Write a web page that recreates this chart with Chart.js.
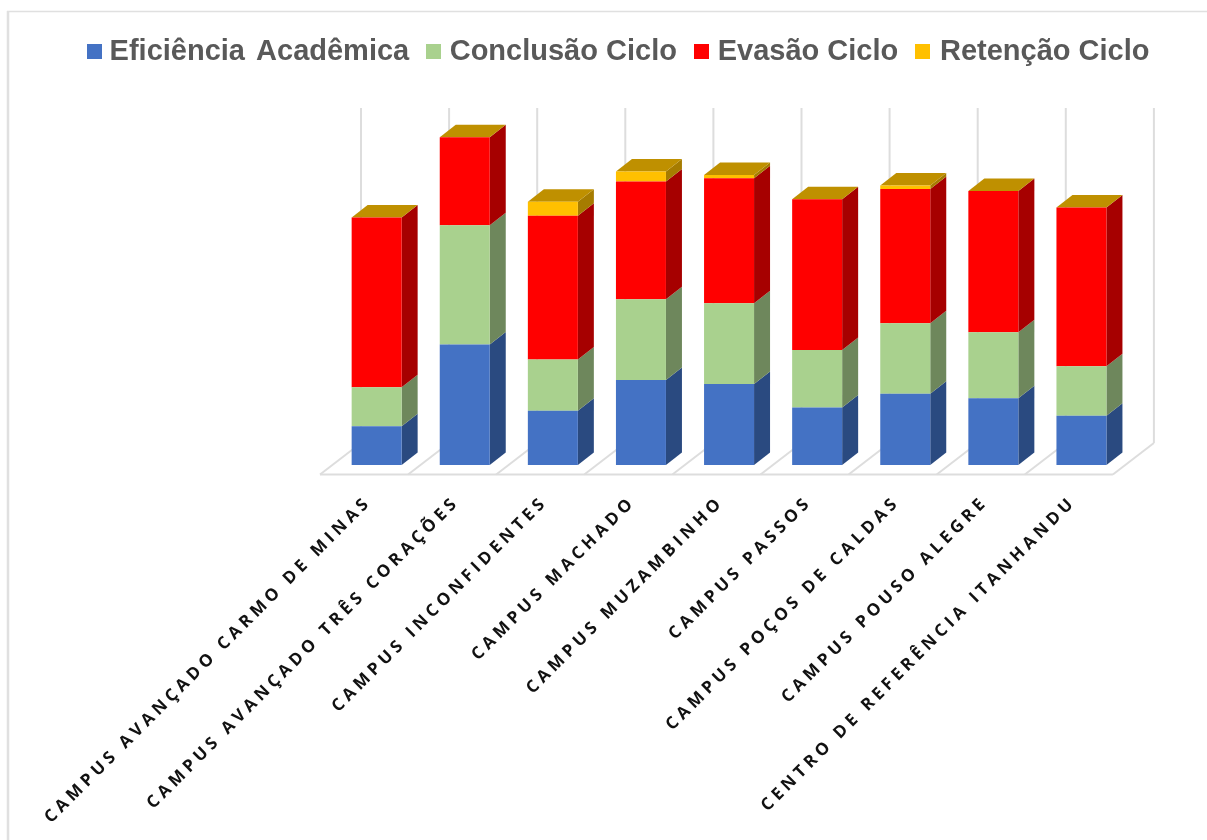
<!DOCTYPE html>
<html lang="pt">
<head>
  <meta charset="UTF-8" />
  <title>Ciclos por campus</title>
  <script src="https://cdn.jsdelivr.net/npm/chart.js"></script>
  <style>
    body { margin: 0; background: #fff; }
    canvas { display: block; filter: blur(0.4px); }
  </style>
</head>
<body>
  <canvas id="chart" width="1207" height="840"></canvas>
  <script>
    const categories = [
      'CAMPUS AVANÇADO CARMO DE MINAS',
      'CAMPUS AVANÇADO TRÊS CORAÇÕES',
      'CAMPUS INCONFIDENTES',
      'CAMPUS MACHADO',
      'CAMPUS MUZAMBINHO',
      'CAMPUS PASSOS',
      'CAMPUS POÇOS DE CALDAS',
      'CAMPUS POUSO ALEGRE',
      'CENTRO DE REFERÊNCIA ITANHANDU'
    ];
    const seriesNames = ['Eficiência Acadêmica', 'Conclusão Ciclo', 'Evasão Ciclo', 'Retenção Ciclo'];
    const eficiencia = [11.6, 36.0, 16.2, 25.4, 24.2, 17.2, 21.3, 19.9, 14.7];
    const conclusao = [11.6, 35.6, 15.3, 24.1, 24.1, 17.1, 21.0, 19.7, 14.8];
    const evasao = [50.7, 26.2, 42.9, 35.1, 37.3, 45.0, 40.1, 42.2, 47.4];
    const retencao = [0, 0, 4.2, 3.0, 1.0, 0, 1.0, 0, 0];

    const frontColors = ['#4472C4', '#A9D18E', '#FF0000', '#FFC000'];
    const sideColors = ['#2A4A80', '#6E875C', '#A60000', '#A67C00'];
    const topColor = '#BF9000';
    const gridColor = '#DDDDDD';

    // fake 3D depth, in pixels
    const barDepth = { x: 16, y: 12.5 };
    const floorFront = { x: -12.6, y: 9.5 };
    const floorBack = { x: 28.4, y: -22 };

    function poly(ctx, pts, color) {
      ctx.fillStyle = color;
      ctx.beginPath();
      pts.forEach((p, i) => (i ? ctx.lineTo(p[0], p[1]) : ctx.moveTo(p[0], p[1])));
      ctx.closePath();
      ctx.fill();
    }

    function line(ctx, x1, y1, x2, y2) {
      ctx.beginPath();
      ctx.moveTo(x1, y1);
      ctx.lineTo(x2, y2);
      ctx.stroke();
    }

    const labelSpacing = '4.2px';

    const frame3d = {
      id: 'frame3d',
      beforeDraw(chart) {
        const ctx = chart.ctx;
        // outer frame, only top and left show in the picture
        ctx.save();
        ctx.strokeStyle = '#E0E0E0';
        ctx.lineWidth = 1.5;
        line(ctx, 7, 11.5, 1207, 11.5);
        ctx.lineWidth = 2.5;
        line(ctx, 8, 11, 8, 840);
        ctx.restore();
        ctx.letterSpacing = labelSpacing; // tick labels are drawn right after this
      },
      beforeDatasetsDraw(chart) {
        const ctx = chart.ctx;
        ctx.letterSpacing = '0px';
        const xs = chart.scales.x, ys = chart.scales.y;
        const base = ys.getPixelForValue(0);
        const top = ys.getPixelForValue(100);
        const slot = (xs.right - xs.left) / categories.length;

        ctx.save();
        ctx.strokeStyle = gridColor;
        ctx.lineWidth = 2;
        for (let i = 0; i <= categories.length; i++) {
          const x = xs.left + slot * i;
          line(ctx, x + floorFront.x, base + floorFront.y, x + floorBack.x, base + floorBack.y);
          line(ctx, x + floorBack.x, base + floorBack.y, x + floorBack.x, top + floorBack.y);
        }
        line(ctx, xs.left + floorFront.x, base + floorFront.y, xs.right + floorFront.x, base + floorFront.y);
        ctx.restore();

        // side faces, then the lid on top of each stack
        chart.data.datasets.forEach((ds, d) => {
          chart.getDatasetMeta(d).data.forEach(bar => {
            const r = bar.x + bar.width / 2;
            poly(ctx, [
              [r, bar.y], [r + barDepth.x, bar.y - barDepth.y],
              [r + barDepth.x, bar.base - barDepth.y], [r, bar.base]
            ], sideColors[d]);
          });
        });
        chart.getDatasetMeta(chart.data.datasets.length - 1).data.forEach(bar => {
          const l = bar.x - bar.width / 2, r = bar.x + bar.width / 2;
          poly(ctx, [
            [l, bar.y], [l + barDepth.x, bar.y - barDepth.y],
            [r + barDepth.x, bar.y - barDepth.y], [r, bar.y]
          ], topColor);
        });
      }
    };

    // legend drawn by hand, the spacing in the picture is not regular
    const legendBoxes = [87, 426, 694, 915];
    const legendTexts = [109.6, 449.7, 717.7, 940];
    const legendWordGaps = ['3px', '0px', '0px', '0px'];

    const topLegend = {
      id: 'topLegend',
      afterDraw(chart) {
        const ctx = chart.ctx;
        ctx.save();
        ctx.font = 'bold 29px "Liberation Sans", Arial, sans-serif';
        ctx.textBaseline = 'alphabetic';
        seriesNames.forEach((name, i) => {
          ctx.fillStyle = frontColors[i];
          ctx.fillRect(legendBoxes[i], 44, 15, 15);
          ctx.fillStyle = '#595959';
          ctx.wordSpacing = legendWordGaps[i];
          ctx.fillText(name, legendTexts[i], 60);
        });
        ctx.restore();
      }
    };

    new Chart(document.getElementById('chart'), {
      type: 'bar',
      data: {
        labels: categories,
        datasets: [eficiencia, conclusao, evasao, retencao].map((values, i) => ({
          label: seriesNames[i],
          data: values,
          backgroundColor: frontColors[i],
          borderWidth: 0,
          barPercentage: 0.5675,
          categoryPercentage: 1
        }))
      },
      options: {
        responsive: false,
        animation: false,
        layout: { padding: { left: 332.6, right: 81.5, top: 130, bottom: 0 } },
        plugins: { legend: { display: false }, tooltip: { enabled: false } },
        scales: {
          x: {
            stacked: true,
            grid: { display: false },
            border: { display: false },
            afterFit(scale) {
              scale.height = 375;
              scale.paddingLeft = 0;
              scale.paddingRight = 0;
            },
            ticks: {
              autoSkip: false,
              minRotation: 45,
              maxRotation: 45,
              padding: 19,
              labelOffset: -8,
              color: '#111111',
              font: { family: '"Open Sans"', weight: 'bold', size: 17 }
            }
          },
          y: { stacked: true, display: false, min: 0, max: 100 }
        }
      },
      plugins: [frame3d, topLegend]
    });
  </script>
</body>
</html>
